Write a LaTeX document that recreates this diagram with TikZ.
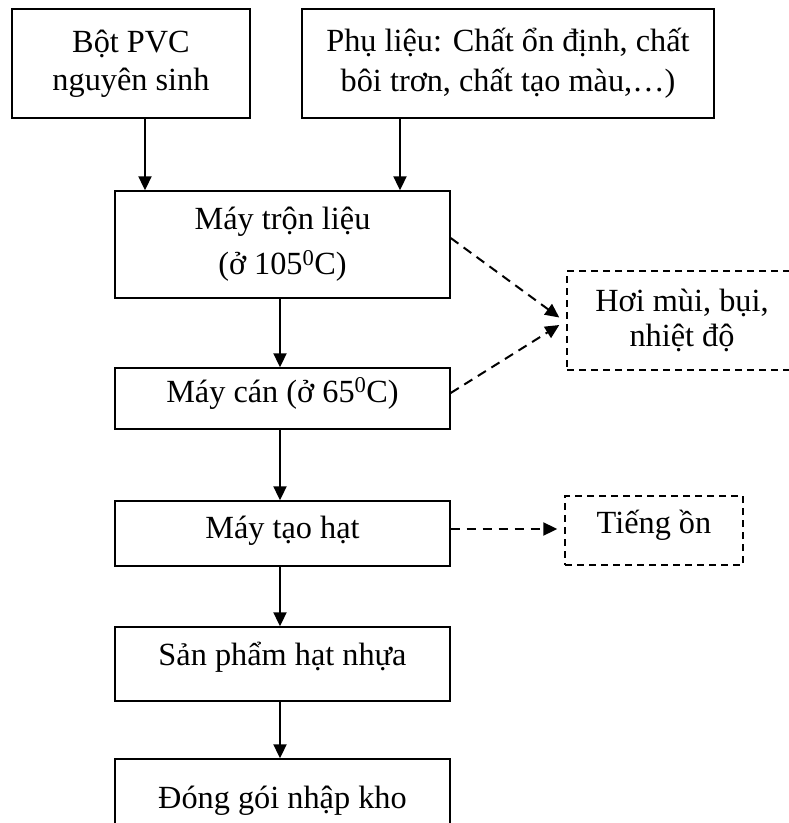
\documentclass[tikz,border=0pt]{standalone}
\usepackage{fontspec}
\setmainfont{Liberation Serif}
\usetikzlibrary{arrows.meta}
\begin{document}
\begin{tikzpicture}[x=1pt,y=-1pt,
  every node/.style={font=\fontsize{32.3}{38}\selectfont},
  box/.style={draw, line width=1.4pt, inner sep=0pt, align=center},
  dbox/.style={draw, line width=1.4pt, dash pattern=on 7pt off 5pt, inner sep=0pt, align=center},
  arr/.style={line width=2pt, -{Triangle[length=14pt,width=13pt]}},
  darr/.style={line width=2pt, dash pattern=on 9.5pt off 6.5pt, -{Triangle[length=14pt,width=13pt]}}]
\useasboundingbox (0,0) rectangle (789,823);
\clip (0,0) rectangle (789,823);

\node[box, minimum width=238pt, minimum height=109pt] (bot) at (131,63.5) {Bột PVC\\nguyên sinh};
\node[box, minimum width=412pt, minimum height=109pt] (phu) at (508,63.5) {Phụ liệu: Chất ổn định, chất\\[2pt]bôi trơn, chất tạo màu,…)};
\node[box, minimum width=335pt, minimum height=107pt] (mix) at (282.5,244.5) {Máy trộn liệu\\[7pt](ở 105\textsuperscript{0}C)};
\node[box, minimum width=335pt, minimum height=61pt, text height=24pt, text depth=17pt] (can) at (282.5,398.5) {Máy cán (ở 65\textsuperscript{0}C)};
\node[box, minimum width=335pt, minimum height=65pt, text height=24pt, text depth=15pt] (hat) at (282.5,533.5) {Máy tạo hạt};
\node[box, minimum width=335pt, minimum height=74pt, text height=24pt, text depth=22pt] (sp) at (282.5,664) {Sản phẩm hạt nhựa};
\node[box, minimum width=335pt, minimum height=74pt, text height=24pt, text depth=0pt] (dong) at (282.5,796) {Đóng gói nhập kho};

\node[dbox, minimum width=230pt, minimum height=99pt] (hoi) at (682,320.5) {Hơi mùi, bụi,\\[-3pt]nhiệt độ};
\node[dbox, minimum width=178pt, minimum height=69pt, text height=24pt, text depth=19pt] (tieng) at (654,530.5) {Tiếng ồn};

\draw[arr] ([xshift=14pt]bot.south) -- ([xshift=14pt]bot.south |- mix.north);
\draw[arr] ([xshift=-108pt]phu.south) -- ([xshift=-108pt]phu.south |- mix.north);
\draw[arr] ([xshift=-2.5pt]mix.south) -- ([xshift=-2.5pt]mix.south |- can.north);
\draw[arr] ([xshift=-2.5pt]can.south) -- ([xshift=-2.5pt]can.south |- hat.north);
\draw[arr] ([xshift=-2.5pt]hat.south) -- ([xshift=-2.5pt]hat.south |- sp.north);
\draw[arr] ([xshift=-2.5pt]sp.south) -- ([xshift=-2.5pt]sp.south |- dong.north);

\draw[darr] ([yshift=6.5pt]mix.east) -- ([xshift=-7pt,yshift=3pt]hoi.west);
\draw[darr] ([yshift=5.5pt]can.east) -- ([xshift=-7pt,yshift=-4.5pt]hoi.west);
\draw[darr, shorten >=7pt] ([yshift=4.5pt]hat.east) -- ([yshift=4.5pt]hat.east -| tieng.west);
\end{tikzpicture}
\end{document}
